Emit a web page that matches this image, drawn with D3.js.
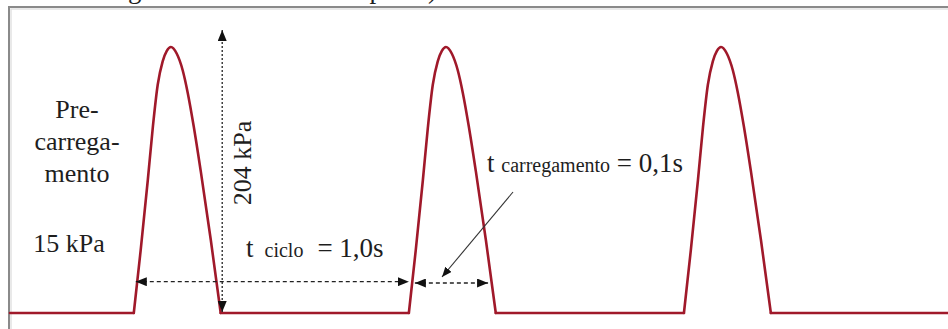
<!DOCTYPE html>
<html>
<head>
<meta charset="utf-8">
<script src="https://cdn.jsdelivr.net/npm/d3@7/dist/d3.min.js"></script>
<style>
  html, body { margin: 0; padding: 0; background: #fff; }
  svg { display: block; }
  text { font-family: "Liberation Serif", "Times New Roman", serif; fill: #1e1e1e; }
</style>
</head>
<body>
<svg id="chart" width="948" height="329"></svg>
<script>
// Repeated load pulses: pre-load level plus a cyclic deviator load (kPa)
const preload = 15;
const deviator = 204;
const cycleStarts = [0.45, 1.45, 2.45];          // s, start of each pulse
const timeDomain = [0, 3.41];                     // s
// one pulse, time offset from its start (s) and load (kPa)
const pulseTime = [0, 0.025, 0.051, 0.069, 0.087, 0.105, 0.12, 0.135, 0.156, 0.178, 0.196, 0.218, 0.244, 0.28, 0.316];
const pulseLoad = [15, 63, 117, 157, 190, 208, 216, 219, 214, 201, 184, 158, 123, 71, 15];
const cycleTime = "1,0s";
const loadTime = "0,1s";
const preloadLines = ["Pre-", "carrega-", "mento"];
const preloadLabel = "15 kPa";
const deviatorLabel = "204 kPa";
const captionTail = "Forma da carga com o ciclo do seu pulso)";

const svg = d3.select("#chart");
const x = d3.scaleLinear().domain(timeDomain).range([10, 948]);
const y = d3.scaleLinear().domain([preload, preload + deviator]).range([313, 47]);

// markers
const defs = svg.append("defs");
function marker(id, len, wid) {
  defs.append("marker")
    .attr("id", id)
    .attr("viewBox", `0 ${-wid / 2} ${len} ${wid}`)
    .attr("refX", len).attr("refY", 0)
    .attr("markerWidth", len).attr("markerHeight", wid)
    .attr("markerUnits", "userSpaceOnUse")
    .attr("orient", "auto-start-reverse")
    .append("path")
    .attr("d", `M0,${-wid / 2}L${len},0L0,${wid / 2}Z`)
    .attr("fill", "#111");
}
marker("arrow", 11, 9);
marker("arrowSmall", 10, 8);

// caption line above the frame (clipped by the top edge)
svg.append("text")
  .attr("x", 437).attr("y", -2)
  .attr("text-anchor", "end")
  .attr("font-size", 27)
  .text(captionTail);

// frame
svg.append("path")
  .attr("d", "M9,329V7H948")
  .attr("fill", "none").attr("stroke", "#8a8a8a").attr("stroke-width", 2);
svg.append("path")
  .attr("d", "M11,329V9H948")
  .attr("fill", "none").attr("stroke", "#e2e2e2").attr("stroke-width", 1.5);

// signal
const red = "#a0192a";
const pulses = cycleStarts.map(s => pulseTime.map((t, i) => [s + t, pulseLoad[i]]));
const pulseLine = d3.line().x(d => x(d[0])).y(d => y(d[1])).curve(d3.curveMonotoneX);
const flatLine = d3.line().x(d => x(d[0])).y(d => y(d[1]));

const flats = [];
let prev = timeDomain[0];
cycleStarts.forEach(s => {
  flats.push([[prev, preload], [s, preload]]);
  prev = s + pulseTime[pulseTime.length - 1];
});
flats.push([[prev, preload], [timeDomain[1], preload]]);

const sig = svg.append("g")
  .attr("fill", "none").attr("stroke", red).attr("stroke-width", 2.6)
  .attr("stroke-linejoin", "round").attr("stroke-linecap", "round");
sig.selectAll(".flat").data(flats).join("path").attr("class", "flat").attr("d", flatLine);
sig.selectAll(".pulse").data(pulses).join("path").attr("class", "pulse").attr("d", pulseLine);

// deviator amplitude arrow (dotted, both ends)
const pEnd = cycleStarts[0] + pulseTime[pulseTime.length - 1];
const ax = x(pEnd) + 1.5;
svg.append("line")
  .attr("x1", ax).attr("x2", ax)
  .attr("y1", y(preload) - 1).attr("y2", y(preload + deviator) - 17)
  .attr("stroke", "#222").attr("stroke-width", 1.3)
  .attr("stroke-dasharray", "2,2")
  .attr("marker-start", "url(#arrow)").attr("marker-end", "url(#arrow)");

svg.append("text")
  .attr("transform", `translate(${ax + 29},163) rotate(-90)`)
  .attr("text-anchor", "middle")
  .attr("font-size", 26)
  .text(deviatorLabel);

// cycle period arrow
const yArrow = y(39);
svg.append("line")
  .attr("x1", x(cycleStarts[0]) + 2).attr("x2", x(cycleStarts[1]))
  .attr("y1", yArrow).attr("y2", yArrow)
  .attr("stroke", "#222").attr("stroke-width", 1.3)
  .attr("stroke-dasharray", "4,3")
  .attr("marker-start", "url(#arrow)").attr("marker-end", "url(#arrow)");

// loading time arrow
const yArrow2 = y(38);
svg.append("line")
  .attr("x1", x(cycleStarts[1]) + 6).attr("x2", x(cycleStarts[1] + 0.288))
  .attr("y1", yArrow2).attr("y2", yArrow2)
  .attr("stroke", "#222").attr("stroke-width", 1.3)
  .attr("stroke-dasharray", "4,3")
  .attr("marker-start", "url(#arrow)").attr("marker-end", "url(#arrow)");

// leader from the loading-time label
svg.append("line")
  .attr("x1", 513).attr("y1", 192)
  .attr("x2", 442).attr("y2", 277)
  .attr("stroke", "#333").attr("stroke-width", 1.1)
  .attr("marker-end", "url(#arrowSmall)");

// pre-load labels
const pre = svg.append("text").attr("text-anchor", "middle").attr("font-size", 26);
preloadLines.forEach((t, i) => {
  pre.append("tspan").attr("x", 77).attr("y", 118 + i * 32).text(t);
});
svg.append("text")
  .attr("x", 69).attr("y", 252)
  .attr("text-anchor", "middle").attr("font-size", 26)
  .text(preloadLabel);

// time labels
const tc = svg.append("text").attr("x", 246).attr("y", 257).attr("font-size", 27);
tc.append("tspan").text("t");
tc.append("tspan").attr("dx", 11).attr("font-size", 20).text("ciclo");
tc.append("tspan").attr("dx", 14).text("= " + cycleTime);

const tl = svg.append("text").attr("x", 487).attr("y", 172).attr("font-size", 27);
tl.append("tspan").text("t ");
tl.append("tspan").attr("font-size", 20).text("carregamento");
tl.append("tspan").text(" = " + loadTime);
</script>
</body>
</html>
